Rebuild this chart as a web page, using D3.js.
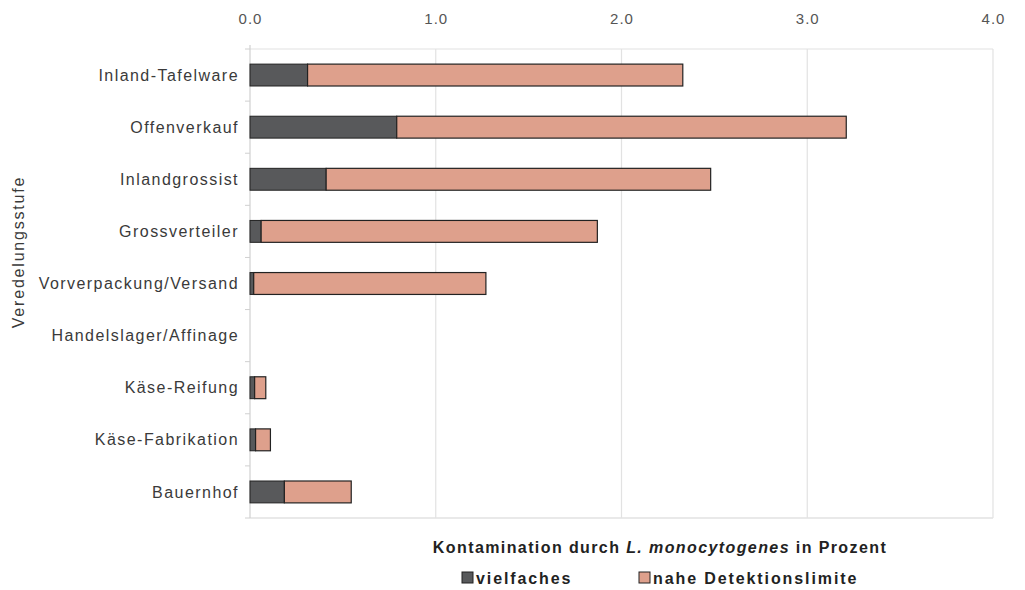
<!DOCTYPE html>
<html>
<head>
<meta charset="utf-8">
<script src="https://cdn.jsdelivr.net/npm/d3@7"></script>
<style>
  body { margin: 0; background: #fff; }
  svg { font-family: "Liberation Sans", Arial, sans-serif; }
</style>
</head>
<body>
<svg id="chart" width="1025" height="590"></svg>
<script>
const categories = [
  "Inland-Tafelware",
  "Offenverkauf",
  "Inlandgrossist",
  "Grossverteiler",
  "Vorverpackung/Versand",
  "Handelslager/Affinage",
  "Käse-Reifung",
  "Käse-Fabrikation",
  "Bauernhof",
];
const vielfaches = [0.31, 0.79, 0.41, 0.06, 0.02, 0, 0.025, 0.03, 0.185];
const naheDetektionslimite = [2.02, 2.42, 2.07, 1.81, 1.25, 0, 0.06, 0.08, 0.36];
const xTicks = [0, 1, 2, 3, 4];

const colors = { vielfaches: "#58595b", nahe: "#dea08c" };

const svg = d3.select("#chart");
const margin = { top: 49, right: 32, bottom: 72, left: 250 };
const width = 1025 - margin.left - margin.right;
const height = 590 - margin.top - margin.bottom;

const x = d3.scaleLinear().domain([0, 4]).range([0, width]);
const y = d3.scaleBand().domain(categories).range([0, height]).paddingInner(0.58).paddingOuter(0.29);

const g = svg.append("g").attr("transform", `translate(${margin.left},${margin.top})`);

// grid + frame
g.selectAll(".grid")
  .data(xTicks.slice(1))
  .enter()
  .append("line")
  .attr("x1", (d) => x(d))
  .attr("x2", (d) => x(d))
  .attr("y1", 0)
  .attr("y2", height)
  .attr("stroke", "#e2e2e2")
  .attr("stroke-width", 1.2);
g.append("line").attr("x1", 0).attr("x2", width).attr("y1", 0).attr("y2", 0).attr("stroke", "#e2e2e2").attr("stroke-width", 1.2);
g.append("line").attr("x1", 0).attr("x2", width).attr("y1", height).attr("y2", height).attr("stroke", "#e2e2e2").attr("stroke-width", 1.5);

// top axis
const xAxis = g.append("g")
  .call(d3.axisTop(x).tickValues(xTicks).tickFormat(d3.format(".1f")).tickSize(0).tickPadding(25));
xAxis.select(".domain").remove();
xAxis.selectAll("text")
  .attr("fill", "#555")
  .style("font-size", "15px")
  .style("letter-spacing", "1px");

// left axis
const step = y.step();
const bounds = d3.range(categories.length + 1).map((i) => i * step);
g.append("line").attr("x1", 0).attr("x2", 0).attr("y1", -4).attr("y2", height).attr("stroke", "#d0d0d0").attr("stroke-width", 1.2);
g.selectAll(".ytick")
  .data(bounds)
  .enter()
  .append("line")
  .attr("x1", -5)
  .attr("x2", 0)
  .attr("y1", (d) => d)
  .attr("y2", (d) => d)
  .attr("stroke", "#d0d0d0");

g.selectAll(".cat")
  .data(categories)
  .enter()
  .append("text")
  .attr("x", -11)
  .attr("y", (d) => y(d) + y.bandwidth() / 2)
  .attr("dy", "0.35em")
  .attr("text-anchor", "end")
  .attr("fill", "#3a3a3a")
  .style("font-size", "16px")
  .style("letter-spacing", "1.45px")
  .text((d) => d);

// bars
const rows = categories.map((c, i) => ({ cat: c, a: vielfaches[i], b: naheDetektionslimite[i] }));
const bars = g.selectAll(".row").data(rows.filter((d) => d.a + d.b > 0)).enter().append("g");
bars.append("rect")
  .attr("x", 0)
  .attr("y", (d) => y(d.cat))
  .attr("width", (d) => x(d.a))
  .attr("height", y.bandwidth())
  .attr("fill", colors.vielfaches)
  .attr("stroke", "#222")
  .attr("stroke-width", 1);
bars.append("rect")
  .attr("x", (d) => x(d.a))
  .attr("y", (d) => y(d.cat))
  .attr("width", (d) => x(d.a + d.b) - x(d.a))
  .attr("height", y.bandwidth())
  .attr("fill", colors.nahe)
  .attr("stroke", "#222")
  .attr("stroke-width", 1.2);

// axis titles
svg.append("text")
  .attr("transform", "translate(24,252) rotate(-90)")
  .attr("text-anchor", "middle")
  .attr("fill", "#3a3a3a")
  .style("font-size", "16px")
  .style("letter-spacing", "1.8px")
  .text("Veredelungsstufe");

const title = svg.append("text")
  .attr("x", 660)
  .attr("y", 553)
  .attr("text-anchor", "middle")
  .attr("fill", "#222")
  .style("font-size", "16px")
  .style("font-weight", "bold")
  .style("letter-spacing", "1.4px");
title.append("tspan").text("Kontamination durch ");
title.append("tspan").style("font-style", "italic").text("L. monocytogenes");
title.append("tspan").text("  in Prozent");

// legend
const legendItems = [
  { label: "vielfaches", color: colors.vielfaches, x: 462 },
  { label: "nahe Detektionslimite", color: colors.nahe, x: 639 },
];
const legend = svg.append("g");
legendItems.forEach((d) => {
  legend.append("rect")
    .attr("x", d.x)
    .attr("y", 572)
    .attr("width", 11)
    .attr("height", 11)
    .attr("fill", d.color)
    .attr("stroke", "#222");
  legend.append("text")
    .attr("x", d.x + 14)
    .attr("y", 584)
    .attr("fill", "#222")
    .style("font-size", "16px")
    .style("font-weight", "bold")
    .style("letter-spacing", "1.9px")
    .text(d.label);
});
</script>
</body>
</html>
